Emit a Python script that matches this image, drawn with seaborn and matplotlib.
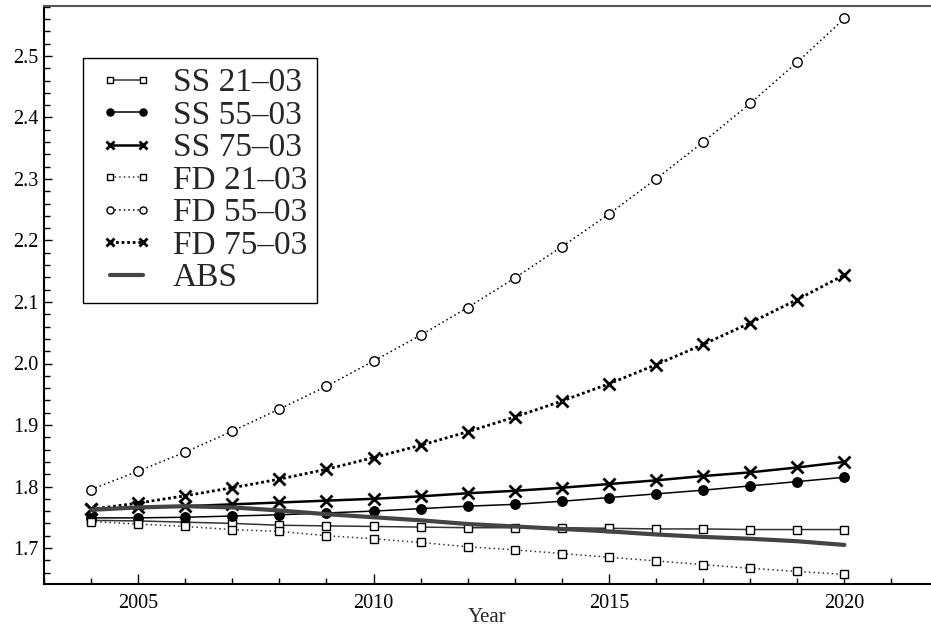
import matplotlib
matplotlib.use("Agg")
import matplotlib.pyplot as plt
from matplotlib.ticker import MultipleLocator, FixedLocator
from matplotlib.legend_handler import HandlerLine2D
from matplotlib.lines import Line2D
import seaborn as sns
import pandas as pd

years = list(range(2004, 2021))

ss_21_03 = [1.745, 1.744, 1.742, 1.740, 1.737, 1.736, 1.735, 1.734, 1.733, 1.733, 1.733, 1.732, 1.731, 1.731, 1.730, 1.730, 1.730]
ss_55_03 = [1.749, 1.749, 1.750, 1.752, 1.754, 1.757, 1.760, 1.764, 1.768, 1.771, 1.776, 1.782, 1.788, 1.794, 1.801, 1.808, 1.815]
ss_75_03 = [1.763, 1.766, 1.768, 1.771, 1.774, 1.777, 1.780, 1.784, 1.789, 1.793, 1.798, 1.804, 1.810, 1.817, 1.823, 1.831, 1.840]
fd_21_03 = [1.743, 1.739, 1.735, 1.730, 1.727, 1.720, 1.715, 1.709, 1.702, 1.697, 1.691, 1.685, 1.679, 1.673, 1.667, 1.662, 1.657]
fd_55_03 = [1.795, 1.825, 1.856, 1.890, 1.926, 1.963, 2.004, 2.046, 2.091, 2.139, 2.190, 2.243, 2.300, 2.360, 2.423, 2.490, 2.561]
fd_75_03 = [1.763, 1.773, 1.785, 1.798, 1.812, 1.828, 1.847, 1.867, 1.889, 1.913, 1.939, 1.967, 1.998, 2.031, 2.066, 2.104, 2.144]
abs_vals = [1.762, 1.766, 1.768, 1.766, 1.761, 1.755, 1.750, 1.745, 1.739, 1.735, 1.731, 1.727, 1.722, 1.718, 1.715, 1.711, 1.705]

labels = ["SS 21\u201303", "SS 55\u201303", "SS 75\u201303",
          "FD 21\u201303", "FD 55\u201303", "FD 75\u201303", "ABS"]
x_tick_labels = ["2005", "2010", "2015", "2020"]

sns.set_theme(style="ticks")
plt.rcParams["font.family"] = ["Liberation Serif", "DejaVu Serif"]

fig = plt.figure(figsize=(9.31, 6.29), dpi=100)
ax = fig.add_axes([44 / 931, 45 / 629, 887 / 931, 578 / 629])

series = [ss_21_03, ss_55_03, ss_75_03, fd_21_03, fd_55_03, fd_75_03, abs_vals]
styles = [
    dict(color="#333333", linewidth=1.1, linestyle="-", marker="s", markersize=6.3,
         markerfacecolor="white", markeredgecolor="black", markeredgewidth=1.0),
    dict(color="black", linewidth=1.1, linestyle="-", marker="o", markersize=6.8,
         markerfacecolor="black", markeredgecolor="black", markeredgewidth=1.0),
    dict(color="black", linewidth=1.8, linestyle="-", marker="x", markersize=8.0,
         markerfacecolor="black", markeredgecolor="black", markeredgewidth=2.0),
    dict(color="#333333", linewidth=1.1, linestyle=(0, (1, 2)), marker="s", markersize=6.3,
         markerfacecolor="white", markeredgecolor="black", markeredgewidth=1.0),
    dict(color="black", linewidth=1.1, linestyle=(0, (1, 2)), marker="o", markersize=6.8,
         markerfacecolor="white", markeredgecolor="black", markeredgewidth=1.0),
    dict(color="black", linewidth=2.0, linestyle=(0, (1, 1)), marker="x", markersize=8.0,
         markerfacecolor="black", markeredgecolor="black", markeredgewidth=2.0),
    dict(color="#444444", linewidth=3.0, linestyle="-", marker=None),
]

for vals, lab, st in zip(series, labels, styles):
    df = pd.DataFrame({"Year": years, "value": vals})
    sns.lineplot(data=df, x="Year", y="value", ax=ax, label=lab, sort=False, **st)

ax.set_xlim(2003, 2021.84)
ax.set_ylim(2.5 - (584 - 56) / 615, 2.5 + 50 / 615)

ax.xaxis.set_major_locator(FixedLocator([2005, 2010, 2015, 2020]))
ax.set_xticklabels(x_tick_labels)
ax.xaxis.set_minor_locator(MultipleLocator(1))
ax.yaxis.set_major_locator(MultipleLocator(0.1))
ax.yaxis.set_minor_locator(MultipleLocator(0.02))
ax.yaxis.set_major_formatter(matplotlib.ticker.FormatStrFormatter("%.1f"))

ax.tick_params(axis="both", which="both", direction="in", colors="black")
ax.tick_params(axis="x", which="major", length=7, width=1.0, pad=7, labelsize=14.5)
ax.tick_params(axis="x", which="minor", length=4, width=1.0)
ax.tick_params(axis="y", which="major", length=6, width=1.0, pad=4, labelsize=14.5)
ax.tick_params(axis="y", which="minor", length=4, width=1.0)
ax.tick_params(top=False, right=False, which="both")

for side in ["left", "bottom"]:
    ax.spines[side].set_color("black")
    ax.spines[side].set_linewidth(1.5)
ax.spines["top"].set_color("#555555")
ax.spines["top"].set_linewidth(1.5)
ax.spines["right"].set_visible(False)

ax.set_ylabel("")
ax.set_xlabel("Year", fontsize=15)
ax.xaxis.label.set_va("center")
ax.xaxis.set_label_coords(0.5, (584 - 617) / 578)

handles, labs = ax.get_legend_handles_labels()
leg = ax.legend(handles, labs, loc="upper left",
                bbox_to_anchor=((83 - 44) / 887, (584 - 58) / 578),
                borderaxespad=0, frameon=True, fancybox=False, framealpha=1,
                edgecolor="black", fontsize=24, numpoints=2, handlelength=2.0,
                handletextpad=0.4, labelspacing=0.06, borderpad=0.3,
                markerscale=0.75,
                handler_map={Line2D: HandlerLine2D(marker_pad=0.5, numpoints=2)})
leg.get_frame().set_linewidth(1.0)

fig.savefig("out.png", dpi=100)
